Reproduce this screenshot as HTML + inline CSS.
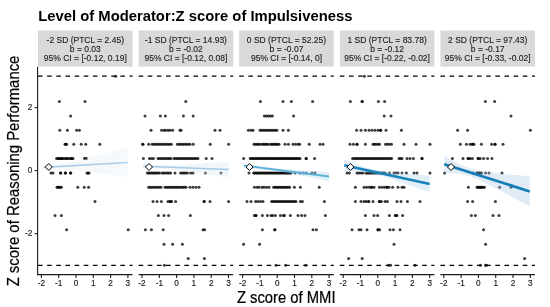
<!DOCTYPE html>
<html><head><meta charset="utf-8"><title>Level of Moderator:Z score of Impulsiveness</title>
<style>html,body{margin:0;padding:0;background:#fff}svg{display:block}text{font-family:"Liberation Sans", Arial, Helvetica, sans-serif}</style></head><body>
<svg width="550" height="307" viewBox="0 0 550 307">
<rect width="550" height="307" fill="#fff"/>
<text x="38.3" y="21" font-size="14.8" font-weight="bold" fill="#000">Level of Moderator:Z score of Impulsiveness</text>
<rect x="38.0" y="30.5" width="94.6" height="36.1" fill="#d9d9d9"/>
<text x="85.3" y="42.7" font-size="8.5" text-anchor="middle" fill="#1a1a1a" stroke="#1a1a1a" stroke-width="0.12">-2 SD (PTCL = 2.45)</text>
<text x="85.3" y="51.7" font-size="8.5" text-anchor="middle" fill="#1a1a1a" stroke="#1a1a1a" stroke-width="0.12">b = 0.03</text>
<text x="85.3" y="60.7" font-size="8.5" text-anchor="middle" fill="#1a1a1a" stroke="#1a1a1a" stroke-width="0.12">95% CI = [-0.12, 0.19]</text>
<rect x="138.6" y="30.5" width="94.6" height="36.1" fill="#d9d9d9"/>
<text x="185.9" y="42.7" font-size="8.5" text-anchor="middle" fill="#1a1a1a" stroke="#1a1a1a" stroke-width="0.12">-1 SD (PTCL = 14.93)</text>
<text x="185.9" y="51.7" font-size="8.5" text-anchor="middle" fill="#1a1a1a" stroke="#1a1a1a" stroke-width="0.12">b = -0.02</text>
<text x="185.9" y="60.7" font-size="8.5" text-anchor="middle" fill="#1a1a1a" stroke="#1a1a1a" stroke-width="0.12">95% CI = [-0.12, 0.08]</text>
<rect x="239.2" y="30.5" width="94.6" height="36.1" fill="#d9d9d9"/>
<text x="286.5" y="42.7" font-size="8.5" text-anchor="middle" fill="#1a1a1a" stroke="#1a1a1a" stroke-width="0.12">0 SD (PTCL = 52.25)</text>
<text x="286.5" y="51.7" font-size="8.5" text-anchor="middle" fill="#1a1a1a" stroke="#1a1a1a" stroke-width="0.12">b = -0.07</text>
<text x="286.5" y="60.7" font-size="8.5" text-anchor="middle" fill="#1a1a1a" stroke="#1a1a1a" stroke-width="0.12">95% CI = [-0.14, 0]</text>
<rect x="339.8" y="30.5" width="94.6" height="36.1" fill="#d9d9d9"/>
<text x="387.1" y="42.7" font-size="8.5" text-anchor="middle" fill="#1a1a1a" stroke="#1a1a1a" stroke-width="0.12">1 SD (PTCL = 83.78)</text>
<text x="387.1" y="51.7" font-size="8.5" text-anchor="middle" fill="#1a1a1a" stroke="#1a1a1a" stroke-width="0.12">b = -0.12</text>
<text x="387.1" y="60.7" font-size="8.5" text-anchor="middle" fill="#1a1a1a" stroke="#1a1a1a" stroke-width="0.12">95% CI = [-0.22, -0.02]</text>
<rect x="440.4" y="30.5" width="94.6" height="36.1" fill="#d9d9d9"/>
<text x="487.7" y="42.7" font-size="8.5" text-anchor="middle" fill="#1a1a1a" stroke="#1a1a1a" stroke-width="0.12">2 SD (PTCL = 97.43)</text>
<text x="487.7" y="51.7" font-size="8.5" text-anchor="middle" fill="#1a1a1a" stroke="#1a1a1a" stroke-width="0.12">b = -0.17</text>
<text x="487.7" y="60.7" font-size="8.5" text-anchor="middle" fill="#1a1a1a" stroke="#1a1a1a" stroke-width="0.12">95% CI = [-0.33, -0.02]</text>
<g fill="#000" fill-opacity="0.76">
<circle cx="115.6" cy="76.2" r="1.5"/>
<circle cx="59.4" cy="101.6" r="1.5"/>
<circle cx="85.0" cy="101.6" r="1.5"/>
<circle cx="70.6" cy="116.0" r="1.5"/>
<circle cx="59.8" cy="130.2" r="1.5"/>
<circle cx="67.4" cy="130.2" r="1.5"/>
<circle cx="76.6" cy="130.2" r="1.5"/>
<circle cx="79.4" cy="130.2" r="1.5"/>
<circle cx="65.0" cy="144.2" r="1.5"/>
<circle cx="65.8" cy="144.2" r="1.5"/>
<circle cx="66.6" cy="144.2" r="1.5"/>
<circle cx="73.8" cy="144.2" r="1.5"/>
<circle cx="81.2" cy="144.2" r="1.5"/>
<circle cx="85.8" cy="144.2" r="1.5"/>
<circle cx="99.8" cy="144.2" r="1.5"/>
<circle cx="56.6" cy="158.6" r="1.5"/>
<circle cx="58.0" cy="158.6" r="1.5"/>
<circle cx="59.0" cy="158.6" r="1.5"/>
<circle cx="60.0" cy="158.6" r="1.5"/>
<circle cx="61.0" cy="158.6" r="1.5"/>
<circle cx="62.0" cy="158.6" r="1.5"/>
<circle cx="63.0" cy="158.6" r="1.5"/>
<circle cx="64.5" cy="158.6" r="1.5"/>
<circle cx="66.0" cy="158.6" r="1.5"/>
<circle cx="67.0" cy="158.6" r="1.5"/>
<circle cx="68.0" cy="158.6" r="1.5"/>
<circle cx="70.0" cy="158.6" r="1.5"/>
<circle cx="71.0" cy="158.6" r="1.5"/>
<circle cx="72.0" cy="158.6" r="1.5"/>
<circle cx="73.0" cy="158.6" r="1.5"/>
<circle cx="84.4" cy="158.6" r="1.5"/>
<circle cx="85.4" cy="158.6" r="1.5"/>
<circle cx="86.4" cy="158.6" r="1.5"/>
<circle cx="51.0" cy="173.0" r="1.5"/>
<circle cx="53.0" cy="173.0" r="1.5"/>
<circle cx="60.4" cy="173.0" r="1.5"/>
<circle cx="60.8" cy="173.0" r="1.5"/>
<circle cx="65.2" cy="173.0" r="1.5"/>
<circle cx="65.6" cy="173.0" r="1.5"/>
<circle cx="70.4" cy="173.0" r="1.5"/>
<circle cx="70.8" cy="173.0" r="1.5"/>
<circle cx="87.0" cy="173.0" r="1.5"/>
<circle cx="88.0" cy="173.0" r="1.5"/>
<circle cx="89.0" cy="173.0" r="1.5"/>
<circle cx="57.0" cy="187.2" r="1.5"/>
<circle cx="58.0" cy="187.2" r="1.5"/>
<circle cx="59.0" cy="187.2" r="1.5"/>
<circle cx="60.0" cy="187.2" r="1.5"/>
<circle cx="61.4" cy="187.2" r="1.5"/>
<circle cx="77.8" cy="187.2" r="1.5"/>
<circle cx="84.2" cy="187.2" r="1.5"/>
<circle cx="88.6" cy="187.2" r="1.5"/>
<circle cx="95.0" cy="201.4" r="1.5"/>
<circle cx="55.0" cy="215.4" r="1.5"/>
<circle cx="61.4" cy="215.4" r="1.5"/>
<circle cx="66.6" cy="229.8" r="1.5"/>
<circle cx="128.2" cy="229.8" r="1.5"/>
<circle cx="185.8" cy="101.6" r="1.5"/>
<circle cx="145.0" cy="116.0" r="1.5"/>
<circle cx="160.4" cy="116.0" r="1.5"/>
<circle cx="165.4" cy="116.0" r="1.5"/>
<circle cx="183.4" cy="116.0" r="1.5"/>
<circle cx="193.2" cy="116.0" r="1.5"/>
<circle cx="151.0" cy="130.2" r="1.5"/>
<circle cx="161.6" cy="130.2" r="1.5"/>
<circle cx="164.0" cy="130.2" r="1.5"/>
<circle cx="165.6" cy="130.2" r="1.5"/>
<circle cx="168.0" cy="130.2" r="1.5"/>
<circle cx="170.0" cy="130.2" r="1.5"/>
<circle cx="172.6" cy="130.2" r="1.5"/>
<circle cx="180.0" cy="130.2" r="1.5"/>
<circle cx="181.0" cy="130.2" r="1.5"/>
<circle cx="215.0" cy="130.2" r="1.5"/>
<circle cx="220.0" cy="130.2" r="1.5"/>
<circle cx="142.6" cy="144.2" r="1.5"/>
<circle cx="143.0" cy="144.2" r="1.5"/>
<circle cx="148.6" cy="144.2" r="1.5"/>
<circle cx="152.0" cy="144.2" r="1.5"/>
<circle cx="153.8" cy="144.2" r="1.5"/>
<circle cx="155.5" cy="144.2" r="1.5"/>
<circle cx="157.3" cy="144.2" r="1.5"/>
<circle cx="159.1" cy="144.2" r="1.5"/>
<circle cx="160.8" cy="144.2" r="1.5"/>
<circle cx="162.6" cy="144.2" r="1.5"/>
<circle cx="164.3" cy="144.2" r="1.5"/>
<circle cx="166.1" cy="144.2" r="1.5"/>
<circle cx="167.9" cy="144.2" r="1.5"/>
<circle cx="169.6" cy="144.2" r="1.5"/>
<circle cx="171.4" cy="144.2" r="1.5"/>
<circle cx="177.4" cy="144.2" r="1.5"/>
<circle cx="179.2" cy="144.2" r="1.5"/>
<circle cx="181.0" cy="144.2" r="1.5"/>
<circle cx="182.8" cy="144.2" r="1.5"/>
<circle cx="184.6" cy="144.2" r="1.5"/>
<circle cx="186.4" cy="144.2" r="1.5"/>
<circle cx="188.2" cy="144.2" r="1.5"/>
<circle cx="190.0" cy="144.2" r="1.5"/>
<circle cx="193.2" cy="144.2" r="1.5"/>
<circle cx="210.2" cy="144.2" r="1.5"/>
<circle cx="228.6" cy="144.2" r="1.5"/>
<circle cx="143.4" cy="158.6" r="1.5"/>
<circle cx="149.4" cy="158.6" r="1.5"/>
<circle cx="151.5" cy="158.6" r="1.5"/>
<circle cx="153.5" cy="158.6" r="1.5"/>
<circle cx="158.0" cy="158.6" r="1.5"/>
<circle cx="159.6" cy="158.6" r="1.5"/>
<circle cx="161.2" cy="158.6" r="1.5"/>
<circle cx="162.9" cy="158.6" r="1.5"/>
<circle cx="164.5" cy="158.6" r="1.5"/>
<circle cx="166.1" cy="158.6" r="1.5"/>
<circle cx="167.8" cy="158.6" r="1.5"/>
<circle cx="169.4" cy="158.6" r="1.5"/>
<circle cx="171.0" cy="158.6" r="1.5"/>
<circle cx="174.0" cy="158.6" r="1.5"/>
<circle cx="175.6" cy="158.6" r="1.5"/>
<circle cx="177.2" cy="158.6" r="1.5"/>
<circle cx="178.8" cy="158.6" r="1.5"/>
<circle cx="180.4" cy="158.6" r="1.5"/>
<circle cx="182.0" cy="158.6" r="1.5"/>
<circle cx="183.6" cy="158.6" r="1.5"/>
<circle cx="185.2" cy="158.6" r="1.5"/>
<circle cx="186.8" cy="158.6" r="1.5"/>
<circle cx="188.4" cy="158.6" r="1.5"/>
<circle cx="190.0" cy="158.6" r="1.5"/>
<circle cx="191.6" cy="158.6" r="1.5"/>
<circle cx="193.2" cy="158.6" r="1.5"/>
<circle cx="194.8" cy="158.6" r="1.5"/>
<circle cx="196.4" cy="158.6" r="1.5"/>
<circle cx="198.0" cy="158.6" r="1.5"/>
<circle cx="206.2" cy="158.6" r="1.5"/>
<circle cx="212.0" cy="158.6" r="1.5"/>
<circle cx="147.4" cy="173.0" r="1.5"/>
<circle cx="148.9" cy="173.0" r="1.5"/>
<circle cx="150.4" cy="173.0" r="1.5"/>
<circle cx="151.9" cy="173.0" r="1.5"/>
<circle cx="153.4" cy="173.0" r="1.5"/>
<circle cx="154.9" cy="173.0" r="1.5"/>
<circle cx="156.4" cy="173.0" r="1.5"/>
<circle cx="157.9" cy="173.0" r="1.5"/>
<circle cx="159.4" cy="173.0" r="1.5"/>
<circle cx="162.0" cy="173.0" r="1.5"/>
<circle cx="163.7" cy="173.0" r="1.5"/>
<circle cx="165.4" cy="173.0" r="1.5"/>
<circle cx="167.2" cy="173.0" r="1.5"/>
<circle cx="168.9" cy="173.0" r="1.5"/>
<circle cx="170.6" cy="173.0" r="1.5"/>
<circle cx="175.0" cy="173.0" r="1.5"/>
<circle cx="180.6" cy="173.0" r="1.5"/>
<circle cx="182.3" cy="173.0" r="1.5"/>
<circle cx="184.0" cy="173.0" r="1.5"/>
<circle cx="185.7" cy="173.0" r="1.5"/>
<circle cx="187.4" cy="173.0" r="1.5"/>
<circle cx="190.6" cy="173.0" r="1.5"/>
<circle cx="193.0" cy="173.0" r="1.5"/>
<circle cx="205.4" cy="173.0" r="1.5"/>
<circle cx="221.0" cy="173.0" r="1.5"/>
<circle cx="148.6" cy="187.2" r="1.5"/>
<circle cx="150.4" cy="187.2" r="1.5"/>
<circle cx="152.1" cy="187.2" r="1.5"/>
<circle cx="153.9" cy="187.2" r="1.5"/>
<circle cx="155.7" cy="187.2" r="1.5"/>
<circle cx="157.5" cy="187.2" r="1.5"/>
<circle cx="159.2" cy="187.2" r="1.5"/>
<circle cx="161.0" cy="187.2" r="1.5"/>
<circle cx="165.0" cy="187.2" r="1.5"/>
<circle cx="166.6" cy="187.2" r="1.5"/>
<circle cx="168.2" cy="187.2" r="1.5"/>
<circle cx="169.8" cy="187.2" r="1.5"/>
<circle cx="171.5" cy="187.2" r="1.5"/>
<circle cx="173.1" cy="187.2" r="1.5"/>
<circle cx="174.7" cy="187.2" r="1.5"/>
<circle cx="176.3" cy="187.2" r="1.5"/>
<circle cx="177.9" cy="187.2" r="1.5"/>
<circle cx="179.5" cy="187.2" r="1.5"/>
<circle cx="181.2" cy="187.2" r="1.5"/>
<circle cx="182.8" cy="187.2" r="1.5"/>
<circle cx="184.4" cy="187.2" r="1.5"/>
<circle cx="186.0" cy="187.2" r="1.5"/>
<circle cx="190.0" cy="187.2" r="1.5"/>
<circle cx="193.0" cy="187.2" r="1.5"/>
<circle cx="196.0" cy="187.2" r="1.5"/>
<circle cx="199.0" cy="187.2" r="1.5"/>
<circle cx="153.0" cy="201.4" r="1.5"/>
<circle cx="157.0" cy="201.4" r="1.5"/>
<circle cx="161.4" cy="201.4" r="1.5"/>
<circle cx="168.0" cy="201.4" r="1.5"/>
<circle cx="170.0" cy="201.4" r="1.5"/>
<circle cx="170.4" cy="201.4" r="1.5"/>
<circle cx="171.6" cy="201.4" r="1.5"/>
<circle cx="175.6" cy="201.4" r="1.5"/>
<circle cx="204.0" cy="201.4" r="1.5"/>
<circle cx="204.4" cy="201.4" r="1.5"/>
<circle cx="210.0" cy="201.4" r="1.5"/>
<circle cx="228.6" cy="201.4" r="1.5"/>
<circle cx="158.4" cy="215.4" r="1.5"/>
<circle cx="164.0" cy="215.4" r="1.5"/>
<circle cx="168.6" cy="215.4" r="1.5"/>
<circle cx="190.4" cy="215.4" r="1.5"/>
<circle cx="145.4" cy="229.8" r="1.5"/>
<circle cx="151.4" cy="229.8" r="1.5"/>
<circle cx="163.2" cy="229.8" r="1.5"/>
<circle cx="203.0" cy="229.8" r="1.5"/>
<circle cx="204.6" cy="229.8" r="1.5"/>
<circle cx="164.0" cy="244.2" r="1.5"/>
<circle cx="172.6" cy="244.2" r="1.5"/>
<circle cx="182.4" cy="244.2" r="1.5"/>
<circle cx="188.2" cy="258.4" r="1.5"/>
<circle cx="204.4" cy="258.4" r="1.5"/>
<circle cx="164.4" cy="265.3" r="1.5"/>
<circle cx="260.4" cy="101.6" r="1.5"/>
<circle cx="283.0" cy="101.6" r="1.5"/>
<circle cx="291.4" cy="101.6" r="1.5"/>
<circle cx="312.6" cy="101.6" r="1.5"/>
<circle cx="264.4" cy="116.0" r="1.5"/>
<circle cx="266.4" cy="116.0" r="1.5"/>
<circle cx="268.4" cy="116.0" r="1.5"/>
<circle cx="270.4" cy="116.0" r="1.5"/>
<circle cx="272.4" cy="116.0" r="1.5"/>
<circle cx="293.6" cy="116.0" r="1.5"/>
<circle cx="248.4" cy="130.2" r="1.5"/>
<circle cx="251.0" cy="130.2" r="1.5"/>
<circle cx="253.0" cy="130.2" r="1.5"/>
<circle cx="260.0" cy="130.2" r="1.5"/>
<circle cx="261.7" cy="130.2" r="1.5"/>
<circle cx="263.4" cy="130.2" r="1.5"/>
<circle cx="265.1" cy="130.2" r="1.5"/>
<circle cx="266.8" cy="130.2" r="1.5"/>
<circle cx="268.5" cy="130.2" r="1.5"/>
<circle cx="270.2" cy="130.2" r="1.5"/>
<circle cx="271.9" cy="130.2" r="1.5"/>
<circle cx="273.6" cy="130.2" r="1.5"/>
<circle cx="275.3" cy="130.2" r="1.5"/>
<circle cx="277.0" cy="130.2" r="1.5"/>
<circle cx="283.0" cy="130.2" r="1.5"/>
<circle cx="288.4" cy="130.2" r="1.5"/>
<circle cx="254.0" cy="144.2" r="1.5"/>
<circle cx="255.5" cy="144.2" r="1.5"/>
<circle cx="257.0" cy="144.2" r="1.5"/>
<circle cx="258.5" cy="144.2" r="1.5"/>
<circle cx="260.0" cy="144.2" r="1.5"/>
<circle cx="262.2" cy="144.2" r="1.5"/>
<circle cx="263.7" cy="144.2" r="1.5"/>
<circle cx="265.2" cy="144.2" r="1.5"/>
<circle cx="266.7" cy="144.2" r="1.5"/>
<circle cx="268.2" cy="144.2" r="1.5"/>
<circle cx="270.6" cy="144.2" r="1.5"/>
<circle cx="272.0" cy="144.2" r="1.5"/>
<circle cx="273.4" cy="144.2" r="1.5"/>
<circle cx="274.8" cy="144.2" r="1.5"/>
<circle cx="276.2" cy="144.2" r="1.5"/>
<circle cx="277.6" cy="144.2" r="1.5"/>
<circle cx="279.0" cy="144.2" r="1.5"/>
<circle cx="285.0" cy="144.2" r="1.5"/>
<circle cx="288.4" cy="144.2" r="1.5"/>
<circle cx="293.0" cy="144.2" r="1.5"/>
<circle cx="295.5" cy="144.2" r="1.5"/>
<circle cx="298.0" cy="144.2" r="1.5"/>
<circle cx="299.6" cy="144.2" r="1.5"/>
<circle cx="309.2" cy="144.2" r="1.5"/>
<circle cx="320.0" cy="144.2" r="1.5"/>
<circle cx="323.0" cy="144.2" r="1.5"/>
<circle cx="243.6" cy="158.6" r="1.5"/>
<circle cx="250.2" cy="158.6" r="1.5"/>
<circle cx="251.4" cy="158.6" r="1.5"/>
<circle cx="252.7" cy="158.6" r="1.5"/>
<circle cx="253.9" cy="158.6" r="1.5"/>
<circle cx="255.2" cy="158.6" r="1.5"/>
<circle cx="256.4" cy="158.6" r="1.5"/>
<circle cx="257.7" cy="158.6" r="1.5"/>
<circle cx="258.9" cy="158.6" r="1.5"/>
<circle cx="260.2" cy="158.6" r="1.5"/>
<circle cx="261.4" cy="158.6" r="1.5"/>
<circle cx="262.6" cy="158.6" r="1.5"/>
<circle cx="263.9" cy="158.6" r="1.5"/>
<circle cx="265.1" cy="158.6" r="1.5"/>
<circle cx="266.4" cy="158.6" r="1.5"/>
<circle cx="267.6" cy="158.6" r="1.5"/>
<circle cx="268.9" cy="158.6" r="1.5"/>
<circle cx="270.1" cy="158.6" r="1.5"/>
<circle cx="271.4" cy="158.6" r="1.5"/>
<circle cx="272.6" cy="158.6" r="1.5"/>
<circle cx="273.9" cy="158.6" r="1.5"/>
<circle cx="275.1" cy="158.6" r="1.5"/>
<circle cx="276.3" cy="158.6" r="1.5"/>
<circle cx="277.6" cy="158.6" r="1.5"/>
<circle cx="278.8" cy="158.6" r="1.5"/>
<circle cx="280.1" cy="158.6" r="1.5"/>
<circle cx="281.3" cy="158.6" r="1.5"/>
<circle cx="282.6" cy="158.6" r="1.5"/>
<circle cx="283.8" cy="158.6" r="1.5"/>
<circle cx="285.1" cy="158.6" r="1.5"/>
<circle cx="286.3" cy="158.6" r="1.5"/>
<circle cx="287.6" cy="158.6" r="1.5"/>
<circle cx="288.8" cy="158.6" r="1.5"/>
<circle cx="290.0" cy="158.6" r="1.5"/>
<circle cx="291.3" cy="158.6" r="1.5"/>
<circle cx="292.5" cy="158.6" r="1.5"/>
<circle cx="293.8" cy="158.6" r="1.5"/>
<circle cx="295.0" cy="158.6" r="1.5"/>
<circle cx="296.3" cy="158.6" r="1.5"/>
<circle cx="297.5" cy="158.6" r="1.5"/>
<circle cx="298.8" cy="158.6" r="1.5"/>
<circle cx="300.0" cy="158.6" r="1.5"/>
<circle cx="306.0" cy="158.6" r="1.5"/>
<circle cx="306.4" cy="158.6" r="1.5"/>
<circle cx="314.6" cy="158.6" r="1.5"/>
<circle cx="249.0" cy="173.0" r="1.5"/>
<circle cx="253.6" cy="173.0" r="1.5"/>
<circle cx="254.8" cy="173.0" r="1.5"/>
<circle cx="256.1" cy="173.0" r="1.5"/>
<circle cx="257.3" cy="173.0" r="1.5"/>
<circle cx="258.6" cy="173.0" r="1.5"/>
<circle cx="259.8" cy="173.0" r="1.5"/>
<circle cx="261.1" cy="173.0" r="1.5"/>
<circle cx="262.3" cy="173.0" r="1.5"/>
<circle cx="263.6" cy="173.0" r="1.5"/>
<circle cx="264.8" cy="173.0" r="1.5"/>
<circle cx="266.1" cy="173.0" r="1.5"/>
<circle cx="267.3" cy="173.0" r="1.5"/>
<circle cx="268.6" cy="173.0" r="1.5"/>
<circle cx="269.8" cy="173.0" r="1.5"/>
<circle cx="271.1" cy="173.0" r="1.5"/>
<circle cx="272.3" cy="173.0" r="1.5"/>
<circle cx="273.5" cy="173.0" r="1.5"/>
<circle cx="274.8" cy="173.0" r="1.5"/>
<circle cx="276.0" cy="173.0" r="1.5"/>
<circle cx="277.3" cy="173.0" r="1.5"/>
<circle cx="278.5" cy="173.0" r="1.5"/>
<circle cx="279.8" cy="173.0" r="1.5"/>
<circle cx="281.0" cy="173.0" r="1.5"/>
<circle cx="282.3" cy="173.0" r="1.5"/>
<circle cx="283.5" cy="173.0" r="1.5"/>
<circle cx="284.8" cy="173.0" r="1.5"/>
<circle cx="286.0" cy="173.0" r="1.5"/>
<circle cx="287.3" cy="173.0" r="1.5"/>
<circle cx="288.5" cy="173.0" r="1.5"/>
<circle cx="289.8" cy="173.0" r="1.5"/>
<circle cx="291.0" cy="173.0" r="1.5"/>
<circle cx="295.0" cy="173.0" r="1.5"/>
<circle cx="300.0" cy="173.0" r="1.5"/>
<circle cx="303.0" cy="173.0" r="1.5"/>
<circle cx="306.0" cy="173.0" r="1.5"/>
<circle cx="312.0" cy="173.0" r="1.5"/>
<circle cx="315.0" cy="173.0" r="1.5"/>
<circle cx="254.4" cy="187.2" r="1.5"/>
<circle cx="257.0" cy="187.2" r="1.5"/>
<circle cx="259.0" cy="187.2" r="1.5"/>
<circle cx="262.0" cy="187.2" r="1.5"/>
<circle cx="264.0" cy="187.2" r="1.5"/>
<circle cx="266.5" cy="187.2" r="1.5"/>
<circle cx="269.0" cy="187.2" r="1.5"/>
<circle cx="273.6" cy="187.2" r="1.5"/>
<circle cx="275.1" cy="187.2" r="1.5"/>
<circle cx="276.5" cy="187.2" r="1.5"/>
<circle cx="278.0" cy="187.2" r="1.5"/>
<circle cx="279.4" cy="187.2" r="1.5"/>
<circle cx="280.9" cy="187.2" r="1.5"/>
<circle cx="282.3" cy="187.2" r="1.5"/>
<circle cx="283.8" cy="187.2" r="1.5"/>
<circle cx="285.2" cy="187.2" r="1.5"/>
<circle cx="286.7" cy="187.2" r="1.5"/>
<circle cx="288.1" cy="187.2" r="1.5"/>
<circle cx="289.6" cy="187.2" r="1.5"/>
<circle cx="294.4" cy="187.2" r="1.5"/>
<circle cx="300.4" cy="187.2" r="1.5"/>
<circle cx="319.2" cy="187.2" r="1.5"/>
<circle cx="247.0" cy="201.4" r="1.5"/>
<circle cx="251.0" cy="201.4" r="1.5"/>
<circle cx="255.6" cy="201.4" r="1.5"/>
<circle cx="258.0" cy="201.4" r="1.5"/>
<circle cx="260.5" cy="201.4" r="1.5"/>
<circle cx="263.0" cy="201.4" r="1.5"/>
<circle cx="271.6" cy="201.4" r="1.5"/>
<circle cx="273.1" cy="201.4" r="1.5"/>
<circle cx="274.7" cy="201.4" r="1.5"/>
<circle cx="276.2" cy="201.4" r="1.5"/>
<circle cx="277.7" cy="201.4" r="1.5"/>
<circle cx="279.2" cy="201.4" r="1.5"/>
<circle cx="280.8" cy="201.4" r="1.5"/>
<circle cx="282.3" cy="201.4" r="1.5"/>
<circle cx="283.8" cy="201.4" r="1.5"/>
<circle cx="285.3" cy="201.4" r="1.5"/>
<circle cx="286.9" cy="201.4" r="1.5"/>
<circle cx="288.4" cy="201.4" r="1.5"/>
<circle cx="289.9" cy="201.4" r="1.5"/>
<circle cx="291.4" cy="201.4" r="1.5"/>
<circle cx="292.9" cy="201.4" r="1.5"/>
<circle cx="294.5" cy="201.4" r="1.5"/>
<circle cx="296.0" cy="201.4" r="1.5"/>
<circle cx="300.4" cy="201.4" r="1.5"/>
<circle cx="302.4" cy="201.4" r="1.5"/>
<circle cx="324.4" cy="201.4" r="1.5"/>
<circle cx="254.4" cy="215.4" r="1.5"/>
<circle cx="255.6" cy="215.4" r="1.5"/>
<circle cx="256.2" cy="215.4" r="1.5"/>
<circle cx="262.4" cy="215.4" r="1.5"/>
<circle cx="267.4" cy="215.4" r="1.5"/>
<circle cx="271.0" cy="215.4" r="1.5"/>
<circle cx="272.6" cy="215.4" r="1.5"/>
<circle cx="275.4" cy="215.4" r="1.5"/>
<circle cx="280.4" cy="215.4" r="1.5"/>
<circle cx="283.4" cy="215.4" r="1.5"/>
<circle cx="284.4" cy="215.4" r="1.5"/>
<circle cx="290.4" cy="215.4" r="1.5"/>
<circle cx="298.0" cy="215.4" r="1.5"/>
<circle cx="301.6" cy="215.4" r="1.5"/>
<circle cx="305.0" cy="215.4" r="1.5"/>
<circle cx="325.4" cy="215.4" r="1.5"/>
<circle cx="262.4" cy="229.8" r="1.5"/>
<circle cx="274.6" cy="229.8" r="1.5"/>
<circle cx="275.0" cy="229.8" r="1.5"/>
<circle cx="313.0" cy="229.8" r="1.5"/>
<circle cx="316.4" cy="229.8" r="1.5"/>
<circle cx="243.6" cy="244.2" r="1.5"/>
<circle cx="259.6" cy="244.2" r="1.5"/>
<circle cx="276.0" cy="265.3" r="1.5"/>
<circle cx="285.6" cy="265.3" r="1.5"/>
<circle cx="305.6" cy="265.3" r="1.5"/>
<circle cx="364.4" cy="76.2" r="1.5"/>
<circle cx="350.4" cy="101.6" r="1.5"/>
<circle cx="362.0" cy="101.6" r="1.5"/>
<circle cx="362.4" cy="101.6" r="1.5"/>
<circle cx="378.4" cy="101.6" r="1.5"/>
<circle cx="384.6" cy="101.6" r="1.5"/>
<circle cx="384.2" cy="116.0" r="1.5"/>
<circle cx="391.0" cy="116.0" r="1.5"/>
<circle cx="356.6" cy="130.2" r="1.5"/>
<circle cx="361.0" cy="130.2" r="1.5"/>
<circle cx="365.4" cy="130.2" r="1.5"/>
<circle cx="369.0" cy="130.2" r="1.5"/>
<circle cx="372.0" cy="130.2" r="1.5"/>
<circle cx="375.0" cy="130.2" r="1.5"/>
<circle cx="378.0" cy="130.2" r="1.5"/>
<circle cx="380.4" cy="130.2" r="1.5"/>
<circle cx="380.8" cy="130.2" r="1.5"/>
<circle cx="386.0" cy="130.2" r="1.5"/>
<circle cx="401.4" cy="130.2" r="1.5"/>
<circle cx="350.0" cy="144.2" r="1.5"/>
<circle cx="353.4" cy="144.2" r="1.5"/>
<circle cx="356.8" cy="144.2" r="1.5"/>
<circle cx="357.2" cy="144.2" r="1.5"/>
<circle cx="365.4" cy="144.2" r="1.5"/>
<circle cx="373.0" cy="144.2" r="1.5"/>
<circle cx="374.5" cy="144.2" r="1.5"/>
<circle cx="376.0" cy="144.2" r="1.5"/>
<circle cx="378.0" cy="144.2" r="1.5"/>
<circle cx="379.5" cy="144.2" r="1.5"/>
<circle cx="385.5" cy="144.2" r="1.5"/>
<circle cx="387.5" cy="144.2" r="1.5"/>
<circle cx="389.5" cy="144.2" r="1.5"/>
<circle cx="391.5" cy="144.2" r="1.5"/>
<circle cx="404.0" cy="144.2" r="1.5"/>
<circle cx="416.0" cy="144.2" r="1.5"/>
<circle cx="430.0" cy="144.2" r="1.5"/>
<circle cx="352.6" cy="158.6" r="1.5"/>
<circle cx="354.1" cy="158.6" r="1.5"/>
<circle cx="355.6" cy="158.6" r="1.5"/>
<circle cx="357.1" cy="158.6" r="1.5"/>
<circle cx="358.6" cy="158.6" r="1.5"/>
<circle cx="360.1" cy="158.6" r="1.5"/>
<circle cx="361.6" cy="158.6" r="1.5"/>
<circle cx="363.1" cy="158.6" r="1.5"/>
<circle cx="364.6" cy="158.6" r="1.5"/>
<circle cx="366.1" cy="158.6" r="1.5"/>
<circle cx="367.6" cy="158.6" r="1.5"/>
<circle cx="369.1" cy="158.6" r="1.5"/>
<circle cx="370.6" cy="158.6" r="1.5"/>
<circle cx="372.1" cy="158.6" r="1.5"/>
<circle cx="373.6" cy="158.6" r="1.5"/>
<circle cx="375.1" cy="158.6" r="1.5"/>
<circle cx="376.6" cy="158.6" r="1.5"/>
<circle cx="378.1" cy="158.6" r="1.5"/>
<circle cx="379.6" cy="158.6" r="1.5"/>
<circle cx="381.1" cy="158.6" r="1.5"/>
<circle cx="382.6" cy="158.6" r="1.5"/>
<circle cx="384.1" cy="158.6" r="1.5"/>
<circle cx="385.6" cy="158.6" r="1.5"/>
<circle cx="387.1" cy="158.6" r="1.5"/>
<circle cx="388.6" cy="158.6" r="1.5"/>
<circle cx="390.1" cy="158.6" r="1.5"/>
<circle cx="391.6" cy="158.6" r="1.5"/>
<circle cx="399.0" cy="158.6" r="1.5"/>
<circle cx="400.5" cy="158.6" r="1.5"/>
<circle cx="402.0" cy="158.6" r="1.5"/>
<circle cx="407.0" cy="158.6" r="1.5"/>
<circle cx="410.0" cy="158.6" r="1.5"/>
<circle cx="413.4" cy="158.6" r="1.5"/>
<circle cx="421.8" cy="158.6" r="1.5"/>
<circle cx="422.2" cy="158.6" r="1.5"/>
<circle cx="347.0" cy="173.0" r="1.5"/>
<circle cx="349.4" cy="173.0" r="1.5"/>
<circle cx="357.0" cy="173.0" r="1.5"/>
<circle cx="359.0" cy="173.0" r="1.5"/>
<circle cx="361.0" cy="173.0" r="1.5"/>
<circle cx="363.0" cy="173.0" r="1.5"/>
<circle cx="366.0" cy="173.0" r="1.5"/>
<circle cx="367.4" cy="173.0" r="1.5"/>
<circle cx="368.7" cy="173.0" r="1.5"/>
<circle cx="370.1" cy="173.0" r="1.5"/>
<circle cx="371.4" cy="173.0" r="1.5"/>
<circle cx="372.8" cy="173.0" r="1.5"/>
<circle cx="374.1" cy="173.0" r="1.5"/>
<circle cx="375.5" cy="173.0" r="1.5"/>
<circle cx="376.9" cy="173.0" r="1.5"/>
<circle cx="378.2" cy="173.0" r="1.5"/>
<circle cx="379.6" cy="173.0" r="1.5"/>
<circle cx="380.9" cy="173.0" r="1.5"/>
<circle cx="382.3" cy="173.0" r="1.5"/>
<circle cx="383.6" cy="173.0" r="1.5"/>
<circle cx="385.0" cy="173.0" r="1.5"/>
<circle cx="389.4" cy="173.0" r="1.5"/>
<circle cx="394.0" cy="173.0" r="1.5"/>
<circle cx="396.0" cy="173.0" r="1.5"/>
<circle cx="398.0" cy="173.0" r="1.5"/>
<circle cx="402.0" cy="173.0" r="1.5"/>
<circle cx="406.4" cy="173.0" r="1.5"/>
<circle cx="414.0" cy="173.0" r="1.5"/>
<circle cx="417.0" cy="173.0" r="1.5"/>
<circle cx="430.0" cy="173.0" r="1.5"/>
<circle cx="355.4" cy="187.2" r="1.5"/>
<circle cx="364.0" cy="187.2" r="1.5"/>
<circle cx="366.5" cy="187.2" r="1.5"/>
<circle cx="369.0" cy="187.2" r="1.5"/>
<circle cx="371.3" cy="187.2" r="1.5"/>
<circle cx="371.7" cy="187.2" r="1.5"/>
<circle cx="374.0" cy="187.2" r="1.5"/>
<circle cx="379.4" cy="187.2" r="1.5"/>
<circle cx="382.0" cy="187.2" r="1.5"/>
<circle cx="384.5" cy="187.2" r="1.5"/>
<circle cx="386.8" cy="187.2" r="1.5"/>
<circle cx="387.2" cy="187.2" r="1.5"/>
<circle cx="389.0" cy="187.2" r="1.5"/>
<circle cx="392.6" cy="187.2" r="1.5"/>
<circle cx="398.0" cy="187.2" r="1.5"/>
<circle cx="402.0" cy="187.2" r="1.5"/>
<circle cx="404.0" cy="187.2" r="1.5"/>
<circle cx="355.4" cy="201.4" r="1.5"/>
<circle cx="361.0" cy="201.4" r="1.5"/>
<circle cx="364.0" cy="201.4" r="1.5"/>
<circle cx="366.0" cy="201.4" r="1.5"/>
<circle cx="368.4" cy="201.4" r="1.5"/>
<circle cx="368.8" cy="201.4" r="1.5"/>
<circle cx="373.0" cy="201.4" r="1.5"/>
<circle cx="379.2" cy="201.4" r="1.5"/>
<circle cx="379.6" cy="201.4" r="1.5"/>
<circle cx="381.4" cy="201.4" r="1.5"/>
<circle cx="385.0" cy="201.4" r="1.5"/>
<circle cx="387.4" cy="201.4" r="1.5"/>
<circle cx="397.0" cy="201.4" r="1.5"/>
<circle cx="401.0" cy="201.4" r="1.5"/>
<circle cx="407.4" cy="201.4" r="1.5"/>
<circle cx="420.0" cy="201.4" r="1.5"/>
<circle cx="365.4" cy="215.4" r="1.5"/>
<circle cx="374.0" cy="215.4" r="1.5"/>
<circle cx="377.6" cy="215.4" r="1.5"/>
<circle cx="389.4" cy="215.4" r="1.5"/>
<circle cx="395.4" cy="215.4" r="1.5"/>
<circle cx="395.8" cy="215.4" r="1.5"/>
<circle cx="397.0" cy="215.4" r="1.5"/>
<circle cx="402.6" cy="215.4" r="1.5"/>
<circle cx="352.0" cy="229.8" r="1.5"/>
<circle cx="359.0" cy="229.8" r="1.5"/>
<circle cx="361.0" cy="229.8" r="1.5"/>
<circle cx="367.0" cy="229.8" r="1.5"/>
<circle cx="377.8" cy="229.8" r="1.5"/>
<circle cx="378.2" cy="229.8" r="1.5"/>
<circle cx="379.6" cy="229.8" r="1.5"/>
<circle cx="390.0" cy="229.8" r="1.5"/>
<circle cx="393.4" cy="229.8" r="1.5"/>
<circle cx="400.0" cy="229.8" r="1.5"/>
<circle cx="394.0" cy="244.2" r="1.5"/>
<circle cx="348.6" cy="258.4" r="1.5"/>
<circle cx="362.2" cy="258.4" r="1.5"/>
<circle cx="388.5" cy="265.3" r="1.5"/>
<circle cx="390.6" cy="265.3" r="1.5"/>
<circle cx="415.0" cy="265.3" r="1.5"/>
<circle cx="485.4" cy="101.6" r="1.5"/>
<circle cx="494.6" cy="101.6" r="1.5"/>
<circle cx="511.0" cy="116.0" r="1.5"/>
<circle cx="457.6" cy="130.2" r="1.5"/>
<circle cx="467.6" cy="130.2" r="1.5"/>
<circle cx="530.4" cy="130.2" r="1.5"/>
<circle cx="460.4" cy="144.2" r="1.5"/>
<circle cx="466.4" cy="144.2" r="1.5"/>
<circle cx="470.0" cy="144.2" r="1.5"/>
<circle cx="472.2" cy="144.2" r="1.5"/>
<circle cx="472.6" cy="144.2" r="1.5"/>
<circle cx="474.0" cy="144.2" r="1.5"/>
<circle cx="481.4" cy="144.2" r="1.5"/>
<circle cx="491.6" cy="144.2" r="1.5"/>
<circle cx="494.8" cy="144.2" r="1.5"/>
<circle cx="495.2" cy="144.2" r="1.5"/>
<circle cx="503.0" cy="144.2" r="1.5"/>
<circle cx="452.4" cy="158.6" r="1.5"/>
<circle cx="463.0" cy="158.6" r="1.5"/>
<circle cx="468.0" cy="158.6" r="1.5"/>
<circle cx="468.4" cy="158.6" r="1.5"/>
<circle cx="470.0" cy="158.6" r="1.5"/>
<circle cx="472.4" cy="158.6" r="1.5"/>
<circle cx="478.0" cy="158.6" r="1.5"/>
<circle cx="478.4" cy="158.6" r="1.5"/>
<circle cx="480.2" cy="158.6" r="1.5"/>
<circle cx="483.6" cy="158.6" r="1.5"/>
<circle cx="487.6" cy="158.6" r="1.5"/>
<circle cx="492.0" cy="158.6" r="1.5"/>
<circle cx="444.6" cy="173.0" r="1.5"/>
<circle cx="473.0" cy="173.0" r="1.5"/>
<circle cx="477.0" cy="173.0" r="1.5"/>
<circle cx="477.4" cy="173.0" r="1.5"/>
<circle cx="479.0" cy="173.0" r="1.5"/>
<circle cx="479.3" cy="173.0" r="1.5"/>
<circle cx="481.0" cy="173.0" r="1.5"/>
<circle cx="481.4" cy="173.0" r="1.5"/>
<circle cx="485.6" cy="173.0" r="1.5"/>
<circle cx="489.0" cy="173.0" r="1.5"/>
<circle cx="502.0" cy="173.0" r="1.5"/>
<circle cx="468.4" cy="187.2" r="1.5"/>
<circle cx="477.0" cy="187.2" r="1.5"/>
<circle cx="478.0" cy="187.2" r="1.5"/>
<circle cx="479.0" cy="187.2" r="1.5"/>
<circle cx="480.0" cy="187.2" r="1.5"/>
<circle cx="481.0" cy="187.2" r="1.5"/>
<circle cx="482.0" cy="187.2" r="1.5"/>
<circle cx="483.0" cy="187.2" r="1.5"/>
<circle cx="484.4" cy="187.2" r="1.5"/>
<circle cx="499.6" cy="187.2" r="1.5"/>
<circle cx="511.0" cy="187.2" r="1.5"/>
<circle cx="467.6" cy="201.4" r="1.5"/>
<circle cx="472.6" cy="201.4" r="1.5"/>
<circle cx="495.4" cy="201.4" r="1.5"/>
<circle cx="471.4" cy="215.4" r="1.5"/>
<circle cx="475.4" cy="215.4" r="1.5"/>
<circle cx="493.0" cy="215.4" r="1.5"/>
<circle cx="499.0" cy="215.4" r="1.5"/>
<circle cx="483.6" cy="229.8" r="1.5"/>
<circle cx="485.6" cy="244.2" r="1.5"/>
<circle cx="524.6" cy="258.4" r="1.5"/>
<circle cx="480.4" cy="265.3" r="1.5"/>
<circle cx="485.5" cy="265.3" r="1.5"/>
<circle cx="486.5" cy="265.3" r="1.5"/>
</g>
<polygon points="43.5,164.5 46.3,165.0 49.1,165.3 51.9,165.3 54.7,165.1 57.5,164.7 60.4,164.2 63.2,163.6 66.0,163.0 68.8,162.3 71.6,161.7 74.4,161.0 77.2,160.4 80.0,159.7 82.8,159.0 85.7,158.3 88.5,157.6 91.3,156.9 94.1,156.2 96.9,155.6 99.7,154.9 102.5,154.2 105.3,153.5 108.1,152.8 110.9,152.1 113.8,151.4 116.6,150.7 119.4,150.0 122.2,149.3 125.0,148.6 127.8,147.9 127.8,177.1 125.0,176.7 122.2,176.4 119.4,176.0 116.6,175.6 113.8,175.2 110.9,174.9 108.1,174.5 105.3,174.1 102.5,173.8 99.7,173.4 96.9,173.0 94.1,172.7 91.3,172.3 88.5,171.9 85.7,171.6 82.8,171.2 80.0,170.9 77.2,170.5 74.4,170.2 71.6,169.8 68.8,169.5 66.0,169.2 63.2,168.9 60.4,168.7 57.5,168.5 54.7,168.4 51.9,168.5 49.1,168.9 46.3,169.5 43.5,170.3" fill="#e6eef7" fill-opacity="0.35"/>
<line x1="43.5" y1="167.4" x2="127.8" y2="162.5" stroke="#aecde7" stroke-width="1.6"/>
<polygon points="143.2,163.6 146.0,164.0 148.9,164.3 151.7,164.6 154.6,164.8 157.4,164.9 160.3,165.0 163.1,165.1 166.0,165.1 168.8,165.0 171.7,165.0 174.5,164.9 177.4,164.8 180.2,164.6 183.1,164.5 185.9,164.4 188.7,164.2 191.6,164.0 194.4,163.9 197.3,163.7 200.1,163.5 203.0,163.4 205.8,163.2 208.7,163.0 211.5,162.8 214.4,162.6 217.2,162.4 220.1,162.3 222.9,162.1 225.8,161.9 228.6,161.7 228.6,177.3 225.8,176.9 222.9,176.5 220.1,176.1 217.2,175.7 214.4,175.3 211.5,174.9 208.7,174.5 205.8,174.1 203.0,173.7 200.1,173.3 197.3,172.9 194.4,172.5 191.6,172.1 188.7,171.7 185.9,171.3 183.1,171.0 180.2,170.6 177.4,170.3 174.5,169.9 171.7,169.6 168.8,169.3 166.0,169.1 163.1,168.9 160.3,168.7 157.4,168.6 154.6,168.5 151.7,168.5 148.9,168.6 146.0,168.7 143.2,168.8" fill="#d8e6f3" fill-opacity="0.35"/>
<line x1="143.2" y1="166.2" x2="228.6" y2="169.5" stroke="#a4cbe6" stroke-width="1.6"/>
<polygon points="243.8,163.0 246.6,163.5 249.5,164.1 252.3,164.6 255.2,165.1 258.0,165.6 260.8,166.1 263.7,166.5 266.5,167.0 269.4,167.4 272.2,167.8 275.0,168.2 277.9,168.5 280.7,168.8 283.6,169.1 286.4,169.4 289.2,169.6 292.1,169.8 294.9,170.0 297.8,170.2 300.6,170.3 303.4,170.5 306.3,170.6 309.1,170.8 312.0,170.9 314.8,171.1 317.6,171.2 320.5,171.4 323.3,171.5 326.2,171.7 329.0,171.8 329.0,181.2 326.2,180.6 323.3,180.0 320.5,179.4 317.6,178.9 314.8,178.3 312.0,177.7 309.1,177.1 306.3,176.5 303.4,176.0 300.6,175.4 297.8,174.9 294.9,174.3 292.1,173.8 289.2,173.2 286.4,172.7 283.6,172.3 280.7,171.8 277.9,171.4 275.0,171.0 272.2,170.6 269.4,170.3 266.5,170.0 263.7,169.8 260.8,169.5 258.0,169.3 255.2,169.0 252.3,168.8 249.5,168.6 246.6,168.4 243.8,168.2" fill="#a5d6ee" fill-opacity="0.35"/>
<line x1="243.8" y1="165.6" x2="329.0" y2="176.5" stroke="#5cb0d8" stroke-width="1.9"/>
<polygon points="344.3,159.5 347.1,160.6 350.0,161.7 352.8,162.8 355.7,163.9 358.5,164.9 361.4,165.9 364.2,166.9 367.1,167.7 369.9,168.5 372.8,169.2 375.6,169.7 378.5,170.3 381.3,170.7 384.2,171.1 387.0,171.5 389.8,171.9 392.7,172.2 395.5,172.5 398.4,172.8 401.2,173.1 404.1,173.4 406.9,173.7 409.8,173.9 412.6,174.2 415.5,174.5 418.3,174.7 421.2,175.0 424.0,175.2 426.9,175.5 429.7,175.7 429.7,192.3 426.9,191.3 424.0,190.3 421.2,189.3 418.3,188.3 415.5,187.3 412.6,186.3 409.8,185.3 406.9,184.4 404.1,183.4 401.2,182.4 398.4,181.4 395.5,180.5 392.7,179.5 389.8,178.6 387.0,177.7 384.2,176.8 381.3,176.0 378.5,175.2 375.6,174.5 372.8,173.8 369.9,173.2 367.1,172.7 364.2,172.3 361.4,172.0 358.5,171.8 355.7,171.5 352.8,171.4 350.0,171.2 347.1,171.0 344.3,170.9" fill="#b0d1ea" fill-opacity="0.35"/>
<line x1="344.3" y1="165.2" x2="429.6" y2="184.0" stroke="#1781bb" stroke-width="2.5"/>
<polygon points="444.3,155.3 447.1,157.1 450.0,158.8 452.8,160.5 455.7,162.2 458.5,163.7 461.4,165.2 464.2,166.5 467.1,167.6 469.9,168.5 472.8,169.2 475.6,169.9 478.5,170.5 481.3,171.0 484.2,171.5 487.0,171.9 489.8,172.3 492.7,172.6 495.5,173.0 498.4,173.3 501.2,173.6 504.1,173.9 506.9,174.2 509.8,174.5 512.6,174.8 515.5,175.0 518.3,175.3 521.2,175.6 524.0,175.8 526.9,176.1 529.7,176.4 529.7,206.6 526.9,205.0 524.0,203.5 521.2,201.9 518.3,200.4 515.5,198.8 512.6,197.3 509.8,195.7 506.9,194.2 504.1,192.7 501.2,191.2 498.4,189.6 495.5,188.2 492.7,186.7 489.8,185.2 487.0,183.8 484.2,182.4 481.3,181.0 478.5,179.7 475.6,178.5 472.8,177.3 469.9,176.3 467.1,175.4 464.2,174.7 461.4,174.1 458.5,173.8 455.7,173.5 452.8,173.3 450.0,173.2 447.1,173.1 444.3,173.0" fill="#a6c7e2" fill-opacity="0.35"/>
<line x1="444.3" y1="164.2" x2="529.8" y2="191.5" stroke="#137db6" stroke-width="2.7"/>
<line x1="38.0" y1="76.2" x2="132.6" y2="76.2" stroke="#000" stroke-width="1.3" stroke-dasharray="4.6 4.55"/>
<line x1="38.0" y1="265.3" x2="132.6" y2="265.3" stroke="#000" stroke-width="1.3" stroke-dasharray="4.6 4.55"/>
<line x1="138.6" y1="76.2" x2="233.2" y2="76.2" stroke="#000" stroke-width="1.3" stroke-dasharray="4.6 4.55"/>
<line x1="138.6" y1="265.3" x2="233.2" y2="265.3" stroke="#000" stroke-width="1.3" stroke-dasharray="4.6 4.55"/>
<line x1="239.2" y1="76.2" x2="333.8" y2="76.2" stroke="#000" stroke-width="1.3" stroke-dasharray="4.6 4.55"/>
<line x1="239.2" y1="265.3" x2="333.8" y2="265.3" stroke="#000" stroke-width="1.3" stroke-dasharray="4.6 4.55"/>
<line x1="339.8" y1="76.2" x2="434.4" y2="76.2" stroke="#000" stroke-width="1.3" stroke-dasharray="4.6 4.55"/>
<line x1="339.8" y1="265.3" x2="434.4" y2="265.3" stroke="#000" stroke-width="1.3" stroke-dasharray="4.6 4.55"/>
<line x1="440.4" y1="76.2" x2="535.0" y2="76.2" stroke="#000" stroke-width="1.3" stroke-dasharray="4.6 4.55"/>
<line x1="440.4" y1="265.3" x2="535.0" y2="265.3" stroke="#000" stroke-width="1.3" stroke-dasharray="4.6 4.55"/>
<polygon points="48.8,163.5 52.3,167.0 48.8,170.5 45.3,167.0" fill="#fff" stroke="#000" stroke-width="1"/>
<polygon points="149.0,163.5 152.5,167.0 149.0,170.5 145.5,167.0" fill="#fff" stroke="#000" stroke-width="1"/>
<polygon points="249.6,163.5 253.1,167.0 249.6,170.5 246.1,167.0" fill="#fff" stroke="#000" stroke-width="1"/>
<polygon points="350.4,163.5 353.9,167.0 350.4,170.5 346.9,167.0" fill="#fff" stroke="#000" stroke-width="1"/>
<polygon points="451.0,163.5 454.5,167.0 451.0,170.5 447.5,167.0" fill="#fff" stroke="#000" stroke-width="1"/>
<line x1="37.6" y1="66.8" x2="37.6" y2="275.2" stroke="#1a1a1a" stroke-width="1.1"/>
<line x1="37.1" y1="274.6" x2="132.6" y2="274.6" stroke="#1a1a1a" stroke-width="1.2"/>
<line x1="41.4" y1="274.6" x2="41.4" y2="278" stroke="#1a1a1a" stroke-width="1.1"/>
<text x="41.4" y="285.9" font-size="8.2" text-anchor="middle" fill="#1a1a1a" stroke="#1a1a1a" stroke-width="0.15">-2</text>
<line x1="58.7" y1="274.6" x2="58.7" y2="278" stroke="#1a1a1a" stroke-width="1.1"/>
<text x="58.7" y="285.9" font-size="8.2" text-anchor="middle" fill="#1a1a1a" stroke="#1a1a1a" stroke-width="0.15">-1</text>
<line x1="76.0" y1="274.6" x2="76.0" y2="278" stroke="#1a1a1a" stroke-width="1.1"/>
<text x="76.0" y="285.9" font-size="8.2" text-anchor="middle" fill="#1a1a1a" stroke="#1a1a1a" stroke-width="0.15">0</text>
<line x1="93.3" y1="274.6" x2="93.3" y2="278" stroke="#1a1a1a" stroke-width="1.1"/>
<text x="93.3" y="285.9" font-size="8.2" text-anchor="middle" fill="#1a1a1a" stroke="#1a1a1a" stroke-width="0.15">1</text>
<line x1="110.6" y1="274.6" x2="110.6" y2="278" stroke="#1a1a1a" stroke-width="1.1"/>
<text x="110.6" y="285.9" font-size="8.2" text-anchor="middle" fill="#1a1a1a" stroke="#1a1a1a" stroke-width="0.15">2</text>
<line x1="127.9" y1="274.6" x2="127.9" y2="278" stroke="#1a1a1a" stroke-width="1.1"/>
<text x="127.9" y="285.9" font-size="8.2" text-anchor="middle" fill="#1a1a1a" stroke="#1a1a1a" stroke-width="0.15">3</text>
<line x1="138.6" y1="274.6" x2="233.2" y2="274.6" stroke="#1a1a1a" stroke-width="1.2"/>
<line x1="142.0" y1="274.6" x2="142.0" y2="278" stroke="#1a1a1a" stroke-width="1.1"/>
<text x="142.0" y="285.9" font-size="8.2" text-anchor="middle" fill="#1a1a1a" stroke="#1a1a1a" stroke-width="0.15">-2</text>
<line x1="159.3" y1="274.6" x2="159.3" y2="278" stroke="#1a1a1a" stroke-width="1.1"/>
<text x="159.3" y="285.9" font-size="8.2" text-anchor="middle" fill="#1a1a1a" stroke="#1a1a1a" stroke-width="0.15">-1</text>
<line x1="176.6" y1="274.6" x2="176.6" y2="278" stroke="#1a1a1a" stroke-width="1.1"/>
<text x="176.6" y="285.9" font-size="8.2" text-anchor="middle" fill="#1a1a1a" stroke="#1a1a1a" stroke-width="0.15">0</text>
<line x1="193.9" y1="274.6" x2="193.9" y2="278" stroke="#1a1a1a" stroke-width="1.1"/>
<text x="193.9" y="285.9" font-size="8.2" text-anchor="middle" fill="#1a1a1a" stroke="#1a1a1a" stroke-width="0.15">1</text>
<line x1="211.2" y1="274.6" x2="211.2" y2="278" stroke="#1a1a1a" stroke-width="1.1"/>
<text x="211.2" y="285.9" font-size="8.2" text-anchor="middle" fill="#1a1a1a" stroke="#1a1a1a" stroke-width="0.15">2</text>
<line x1="228.5" y1="274.6" x2="228.5" y2="278" stroke="#1a1a1a" stroke-width="1.1"/>
<text x="228.5" y="285.9" font-size="8.2" text-anchor="middle" fill="#1a1a1a" stroke="#1a1a1a" stroke-width="0.15">3</text>
<line x1="239.2" y1="274.6" x2="333.8" y2="274.6" stroke="#1a1a1a" stroke-width="1.2"/>
<line x1="242.6" y1="274.6" x2="242.6" y2="278" stroke="#1a1a1a" stroke-width="1.1"/>
<text x="242.6" y="285.9" font-size="8.2" text-anchor="middle" fill="#1a1a1a" stroke="#1a1a1a" stroke-width="0.15">-2</text>
<line x1="259.9" y1="274.6" x2="259.9" y2="278" stroke="#1a1a1a" stroke-width="1.1"/>
<text x="259.9" y="285.9" font-size="8.2" text-anchor="middle" fill="#1a1a1a" stroke="#1a1a1a" stroke-width="0.15">-1</text>
<line x1="277.2" y1="274.6" x2="277.2" y2="278" stroke="#1a1a1a" stroke-width="1.1"/>
<text x="277.2" y="285.9" font-size="8.2" text-anchor="middle" fill="#1a1a1a" stroke="#1a1a1a" stroke-width="0.15">0</text>
<line x1="294.5" y1="274.6" x2="294.5" y2="278" stroke="#1a1a1a" stroke-width="1.1"/>
<text x="294.5" y="285.9" font-size="8.2" text-anchor="middle" fill="#1a1a1a" stroke="#1a1a1a" stroke-width="0.15">1</text>
<line x1="311.8" y1="274.6" x2="311.8" y2="278" stroke="#1a1a1a" stroke-width="1.1"/>
<text x="311.8" y="285.9" font-size="8.2" text-anchor="middle" fill="#1a1a1a" stroke="#1a1a1a" stroke-width="0.15">2</text>
<line x1="329.1" y1="274.6" x2="329.1" y2="278" stroke="#1a1a1a" stroke-width="1.1"/>
<text x="329.1" y="285.9" font-size="8.2" text-anchor="middle" fill="#1a1a1a" stroke="#1a1a1a" stroke-width="0.15">3</text>
<line x1="339.8" y1="274.6" x2="434.4" y2="274.6" stroke="#1a1a1a" stroke-width="1.2"/>
<line x1="343.2" y1="274.6" x2="343.2" y2="278" stroke="#1a1a1a" stroke-width="1.1"/>
<text x="343.2" y="285.9" font-size="8.2" text-anchor="middle" fill="#1a1a1a" stroke="#1a1a1a" stroke-width="0.15">-2</text>
<line x1="360.5" y1="274.6" x2="360.5" y2="278" stroke="#1a1a1a" stroke-width="1.1"/>
<text x="360.5" y="285.9" font-size="8.2" text-anchor="middle" fill="#1a1a1a" stroke="#1a1a1a" stroke-width="0.15">-1</text>
<line x1="377.8" y1="274.6" x2="377.8" y2="278" stroke="#1a1a1a" stroke-width="1.1"/>
<text x="377.8" y="285.9" font-size="8.2" text-anchor="middle" fill="#1a1a1a" stroke="#1a1a1a" stroke-width="0.15">0</text>
<line x1="395.1" y1="274.6" x2="395.1" y2="278" stroke="#1a1a1a" stroke-width="1.1"/>
<text x="395.1" y="285.9" font-size="8.2" text-anchor="middle" fill="#1a1a1a" stroke="#1a1a1a" stroke-width="0.15">1</text>
<line x1="412.4" y1="274.6" x2="412.4" y2="278" stroke="#1a1a1a" stroke-width="1.1"/>
<text x="412.4" y="285.9" font-size="8.2" text-anchor="middle" fill="#1a1a1a" stroke="#1a1a1a" stroke-width="0.15">2</text>
<line x1="429.7" y1="274.6" x2="429.7" y2="278" stroke="#1a1a1a" stroke-width="1.1"/>
<text x="429.7" y="285.9" font-size="8.2" text-anchor="middle" fill="#1a1a1a" stroke="#1a1a1a" stroke-width="0.15">3</text>
<line x1="440.4" y1="274.6" x2="535.0" y2="274.6" stroke="#1a1a1a" stroke-width="1.2"/>
<line x1="443.8" y1="274.6" x2="443.8" y2="278" stroke="#1a1a1a" stroke-width="1.1"/>
<text x="443.8" y="285.9" font-size="8.2" text-anchor="middle" fill="#1a1a1a" stroke="#1a1a1a" stroke-width="0.15">-2</text>
<line x1="461.1" y1="274.6" x2="461.1" y2="278" stroke="#1a1a1a" stroke-width="1.1"/>
<text x="461.1" y="285.9" font-size="8.2" text-anchor="middle" fill="#1a1a1a" stroke="#1a1a1a" stroke-width="0.15">-1</text>
<line x1="478.4" y1="274.6" x2="478.4" y2="278" stroke="#1a1a1a" stroke-width="1.1"/>
<text x="478.4" y="285.9" font-size="8.2" text-anchor="middle" fill="#1a1a1a" stroke="#1a1a1a" stroke-width="0.15">0</text>
<line x1="495.7" y1="274.6" x2="495.7" y2="278" stroke="#1a1a1a" stroke-width="1.1"/>
<text x="495.7" y="285.9" font-size="8.2" text-anchor="middle" fill="#1a1a1a" stroke="#1a1a1a" stroke-width="0.15">1</text>
<line x1="513.0" y1="274.6" x2="513.0" y2="278" stroke="#1a1a1a" stroke-width="1.1"/>
<text x="513.0" y="285.9" font-size="8.2" text-anchor="middle" fill="#1a1a1a" stroke="#1a1a1a" stroke-width="0.15">2</text>
<line x1="530.3" y1="274.6" x2="530.3" y2="278" stroke="#1a1a1a" stroke-width="1.1"/>
<text x="530.3" y="285.9" font-size="8.2" text-anchor="middle" fill="#1a1a1a" stroke="#1a1a1a" stroke-width="0.15">3</text>
<line x1="34.6" y1="107.6" x2="37.6" y2="107.6" stroke="#1a1a1a" stroke-width="1.1"/>
<text x="32.4" y="110.3" font-size="8.2" text-anchor="end" fill="#1a1a1a" stroke="#1a1a1a" stroke-width="0.15">2</text>
<line x1="34.6" y1="170.6" x2="37.6" y2="170.6" stroke="#1a1a1a" stroke-width="1.1"/>
<text x="32.4" y="173.3" font-size="8.2" text-anchor="end" fill="#1a1a1a" stroke="#1a1a1a" stroke-width="0.15">0</text>
<line x1="34.6" y1="233.6" x2="37.6" y2="233.6" stroke="#1a1a1a" stroke-width="1.1"/>
<text x="32.4" y="236.3" font-size="8.2" text-anchor="end" fill="#1a1a1a" stroke="#1a1a1a" stroke-width="0.15">-2</text>
<text transform="translate(286.2,302.6) scale(1,1.12)" font-size="14.8" text-anchor="middle" fill="#000" stroke="#000" stroke-width="0.2">Z score of MMI</text>
<text transform="translate(18.7,171.0) rotate(-90) scale(1,1.12)" font-size="14.9" text-anchor="middle" fill="#000" stroke="#000" stroke-width="0.2">Z score of Reasoning Performance</text>
</svg></body></html>
